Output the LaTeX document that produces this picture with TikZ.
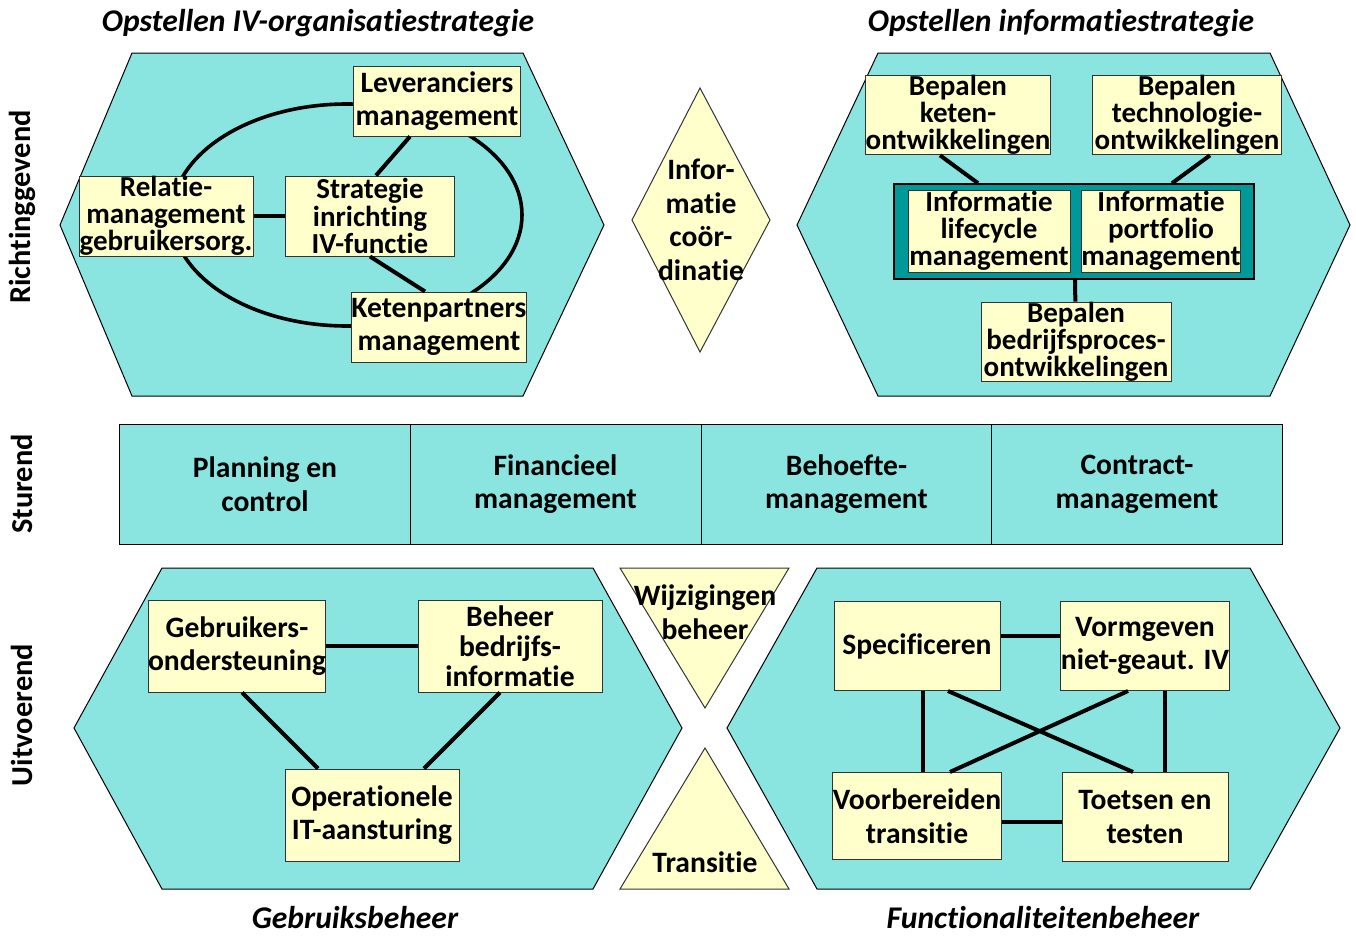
\documentclass[tikz,border=0pt]{standalone}
\usepackage{fontspec}
\setmainfont{Carlito}[Ligatures=NoCommon]
\usetikzlibrary{calc}
\definecolor{hexcyan}{RGB}{138,228,224}
\definecolor{boxyellow}{RGB}{255,255,204}
\definecolor{darkteal}{RGB}{0,153,153}
\begin{document}
\begin{tikzpicture}[x=0.5pt, y=-0.5pt,
  every node/.style={font=\fontsize{14.8}{16.8}\selectfont\bfseries, align=center, inner sep=0pt},
  tight/.style={font=\fontsize{14.5}{13.6}\selectfont\bfseries},
  hexa/.style={draw=black, line width=0.5pt, fill=hexcyan},
  box/.style={draw=black!80, line width=0.5pt, fill=boxyellow},
  link/.style={line width=2pt},
  title/.style={font=\fontsize{15.8}{17}\selectfont\bfseries\itshape}]
  \useasboundingbox (0,0) rectangle (1356,937);
  % hexagons and other shapes
  \draw[hexa] (60,225) -- (132,53) -- (523,53) -- (604,225) -- (523,396) -- (132,396) -- cycle;
  \draw[hexa] (797,225) -- (878,53) -- (1270,53) -- (1350,225) -- (1270,396) -- (878,396) -- cycle;
  \draw[hexa] (74,728) -- (162,568) -- (593,568) -- (682,728) -- (593,889) -- (162,889) -- cycle;
  \draw[hexa] (727,728) -- (817,568) -- (1250,568) -- (1340,728) -- (1250,889) -- (817,889) -- cycle;
  \draw[box] (700,88) -- (770,220) -- (700,352) -- (632,220) -- cycle;
  \draw[box] (620,568) -- (789,568) -- (705,708) -- cycle;
  \draw[box] (705,748) -- (789,889) -- (620,889) -- cycle;
  \draw[line width=1.8pt] (347,215) ellipse [x radius=87.5pt, y radius=55.5pt];

  % titles
  \node[title] (t1) at (318,23) {Opstellen IV-organisatiestrategie};
  \node[title] (t2) at (1061,23) {Opstellen informatiestrategie};
  \node[title] (t3) at (355,918) {Gebruiksbeheer};
  \node[title] (t4) at (1043,918) {Functionaliteitenbeheer};
  \node[rotate=90, font=\fontsize{15.2}{16}\selectfont\bfseries] (r1) at (22,207) {Richtinggevend};
  \node[rotate=90, font=\fontsize{15.2}{16}\selectfont\bfseries] (r2) at (22,484) {Sturend};
  \node[rotate=90, font=\fontsize{15.2}{16}\selectfont\bfseries] (r3) at (22,715) {Uitvoerend};

  % IV-organisatiestrategie
  \node[box, minimum width=83.5pt, minimum height=35pt] (lev) at (437,101) {Leveranciers\\management};
  \node[box, tight, minimum width=87pt, minimum height=40pt] (rel) at (166,216) {Relatie-\\management\\gebruikersorg.};
  \node[box, tight, minimum width=84.5pt, minimum height=40pt] (stra) at (370,216) {Strategie\\inrichting\\IV-functie};
  \node[box, minimum width=85.5pt, minimum height=35pt] (ket) at (439,327) {Ketenpartners\\management};
  \draw[link] (rel) -- (stra);
  \draw[link] ($(stra.north)+(6,0)$) -- ($(lev.south)+(-27,0)$);
  \draw[link] (stra.south) -- ($(ket.north)+(-14,0)$);

  % informatiestrategie
  \node[box, tight, minimum width=91pt, minimum height=38pt] (bke) at (958,115) {Bepalen\\keten-\\ontwikkelingen};
  \node[box, tight, minimum width=94.5pt, minimum height=38pt] (bte) at (1187,115) {Bepalen\\technologie-\\ontwikkelingen};
  \node[draw=black, line width=0.8pt, fill=darkteal, minimum width=180pt, minimum height=47.5pt] (ctr) at (1074,231.5) {};
  \node[box, tight, minimum width=81pt, minimum height=41pt] (ilm) at (989,231) {Informatie\\lifecycle\\management};
  \node[box, tight, minimum width=79.5pt, minimum height=41pt] (ipm) at (1161,231) {Informatie\\portfolio\\management};
  \node[box, tight, minimum width=95pt, minimum height=39.5pt] (bbp) at (1076,342) {Bepalen\\bedrijfsproces-\\ontwikkelingen};
  \draw[link] ($(bke.south)+(-18,0)$) -- ($(ctr.north)+(-96,0)$);
  \draw[link] ($(bte.south)+(23,0)$) -- ($(ctr.north)+(98,0)$);
  \draw[link] ($(ctr.south)+(1,0)$) -- (bbp);

  % sturend
  \node[hexa, minimum width=145.5pt, minimum height=60pt] (plan) at (265,484) {Planning en\\control};
  \node[hexa, minimum width=145.5pt, minimum height=60pt] (fin) at (555.5,484) {Financieel\\management};
  \node[hexa, minimum width=145.5pt, minimum height=60pt] (beh) at (846.5,484) {Behoefte-\\management};
  \node[hexa, minimum width=145.5pt, minimum height=60pt] (con) at (1137,484) {Contract-\\management};

  % middle texts
  \node (coor) at (701,220) {Infor-\\matie\\coör-\\dinatie};
  \node (wijz) at (705,612) {Wijzigingen\\beheer};
  \node (trans) at (705,862) {Transitie};

  % gebruiksbeheer
  \node[box, minimum width=87.5pt, minimum height=46pt] (geb) at (237,646) {Gebruikers-\\ondersteuning};
  \node[box, minimum width=92pt, minimum height=46pt, font=\fontsize{14.8}{15}\selectfont\bfseries] (bbi) at (510,646) {Beheer\\bedrijfs-\\informatie};
  \node[box, minimum width=87pt, minimum height=46pt] (ope) at (372,815) {Operationele\\IT-aansturing};
  \draw[link] (geb) -- (bbi);
  \draw[link] ($(geb.south)+(5,0)$) -- ($(ope.north)+(-54,0)$);
  \draw[link] ($(bbi.south)+(-10,0)$) -- ($(ope.north)+(52,0)$);

  % functionaliteitenbeheer
  \node[box, minimum width=83pt, minimum height=44.5pt] (spec) at (917,646) {Specificeren};
  \node[box, minimum width=83pt, minimum height=44.5pt] (vorm) at (1145,646) {Vormgeven\\niet-geaut. IV};
  \node[box, minimum width=83pt, minimum height=43.5pt] (voor) at (917,816) {Voorbereiden\\transitie};
  \node[box, minimum width=83pt, minimum height=44.5pt] (toets) at (1145,817) {Toetsen en\\testen};
  \draw[link] ($(spec.east)+(0,-10)$) -- ($(vorm.west)+(0,-10)$);
  \draw[link] ($(voor.east)+(0,6)$) -- ($(toets.west)+(0,5)$);
  \draw[link] ($(spec.south)+(6,0)$) -- ($(voor.north)+(6,0)$);
  \draw[link] ($(vorm.south)+(20,0)$) -- ($(toets.north)+(20,0)$);
  \draw[link] ($(spec.south)+(31,0)$) -- ($(toets.north)+(-12,0)$);
  \draw[link] ($(vorm.south)+(-17,0)$) -- ($(voor.north)+(33,0)$);
\end{tikzpicture}
\end{document}
